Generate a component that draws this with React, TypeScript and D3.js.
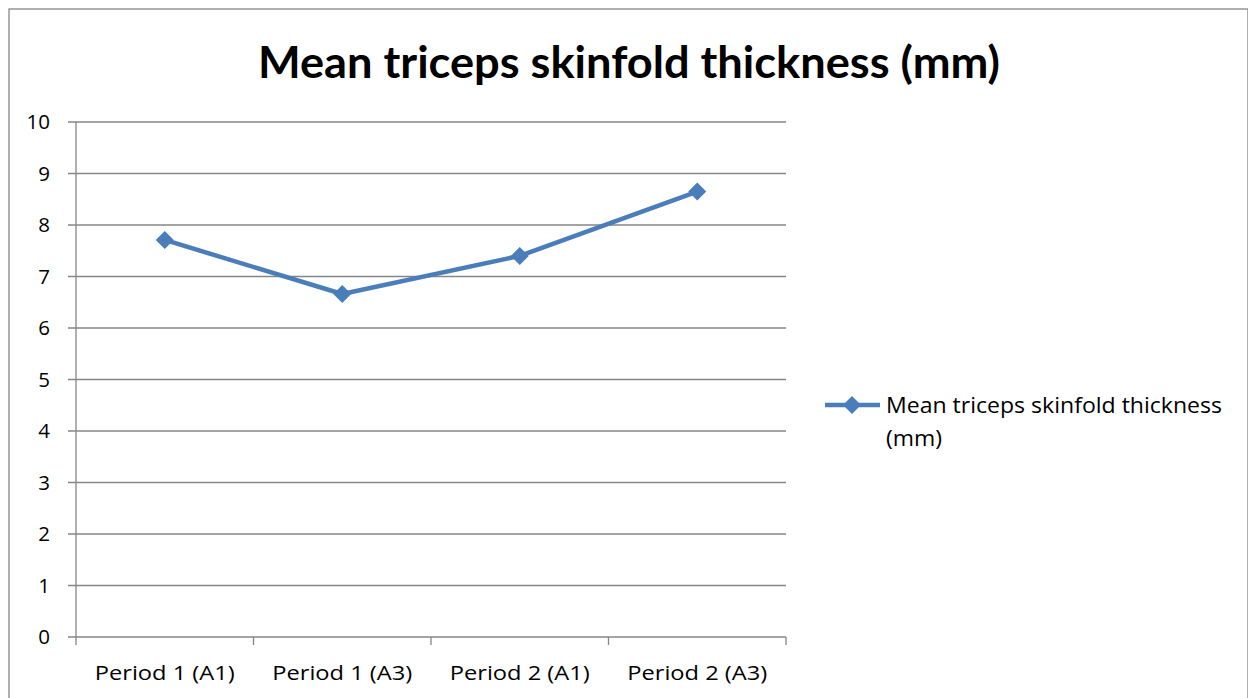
import React from "react";
import * as d3 from "d3";

const categories = ["Period 1 (A1)", "Period 1 (A3)", "Period 2 (A1)", "Period 2 (A3)"];
const values = [7.71, 6.66, 7.4, 8.65];
const yTicks = [0, 1, 2, 3, 4, 5, 6, 7, 8, 9, 10];
const title = "Mean triceps skinfold thickness (mm)";
const seriesName = ["Mean triceps skinfold thickness", "(mm)"];

const W = 1248;
const H = 698;
const plot = { left: 76, right: 786, top: 122, bottom: 637 };
const FONT = "'Open Sans', Lato, 'Liberation Sans', sans-serif";
const TFONT = "Lato, 'Open Sans', sans-serif";
const BLUE = "#4a7ebb";
const GRID = "#868686";

export default function App() {
  const x = d3.scaleBand<string>().domain(categories).range([plot.left, plot.right]);
  const y = d3.scaleLinear().domain([0, 10]).range([plot.bottom, plot.top]);
  const line = d3
    .line<number>()
    .x((_, i) => (x(categories[i]) as number) + x.bandwidth() / 2)
    .y((d) => y(d));
  const diamond = (cx: number, cy: number, r: number) =>
    `M${cx},${cy - r}L${cx + r},${cy}L${cx},${cy + r}L${cx - r},${cy}Z`;
  const xTickPos = [plot.left, ...categories.map((c) => (x(c) as number) + x.bandwidth())];

  return (
    <svg
      width={W}
      height={H}
      style={{ position: "absolute", left: 0, top: 0, background: "#fff" }}
      fontFamily={FONT}
    >
      <rect x={9} y={9} width={W - 9} height={H} fill="#fff" stroke={GRID} strokeWidth={1.3} />
      <text
        x={629}
        y={78}
        textAnchor="middle"
        fontWeight="bold"
        fontSize={43}
        fontFamily={TFONT}
        textLength={742}
        lengthAdjust="spacingAndGlyphs"
        fill="#000"
      >
        {title}
      </text>
      {yTicks.map((t) => (
        <g key={t}>
          <line x1={plot.left - 8} x2={plot.right} y1={y(t)} y2={y(t)} stroke={GRID} strokeWidth={1.3} />
          <text x={50} y={y(t)} dy="0.36em" textAnchor="end" fontSize={20.5} fill="#000">
            {t}
          </text>
        </g>
      ))}
      <line x1={plot.left} x2={plot.left} y1={plot.top} y2={plot.bottom} stroke={GRID} strokeWidth={1.3} />
      {xTickPos.map((p, i) => (
        <line key={i} x1={p} x2={p} y1={plot.bottom} y2={plot.bottom + 8} stroke={GRID} strokeWidth={1.3} />
      ))}
      {categories.map((c) => (
        <text
          key={c}
          x={(x(c) as number) + x.bandwidth() / 2}
          y={680}
          textAnchor="middle"
          fontSize={20.5}
          textLength={140}
          lengthAdjust="spacingAndGlyphs"
          fill="#000"
        >
          {c}
        </text>
      ))}
      <path d={line(values) || ""} fill="none" stroke={BLUE} strokeWidth={4.5} strokeLinejoin="round" />
      {values.map((v, i) => (
        <path
          key={i}
          d={diamond((x(categories[i]) as number) + x.bandwidth() / 2, y(v), 9)}
          fill={BLUE}
        />
      ))}
      <line x1={825} x2={880} y1={405} y2={405} stroke={BLUE} strokeWidth={4.5} />
      <path d={diamond(852, 405, 9)} fill={BLUE} />
      <text x={886} y={413} fontSize={21} textLength={336} lengthAdjust="spacingAndGlyphs" fill="#000">
        {seriesName[0]}
      </text>
      <text x={886} y={446} fontSize={21} textLength={56} lengthAdjust="spacingAndGlyphs" fill="#000">
        {seriesName[1]}
      </text>
    </svg>
  );
}
